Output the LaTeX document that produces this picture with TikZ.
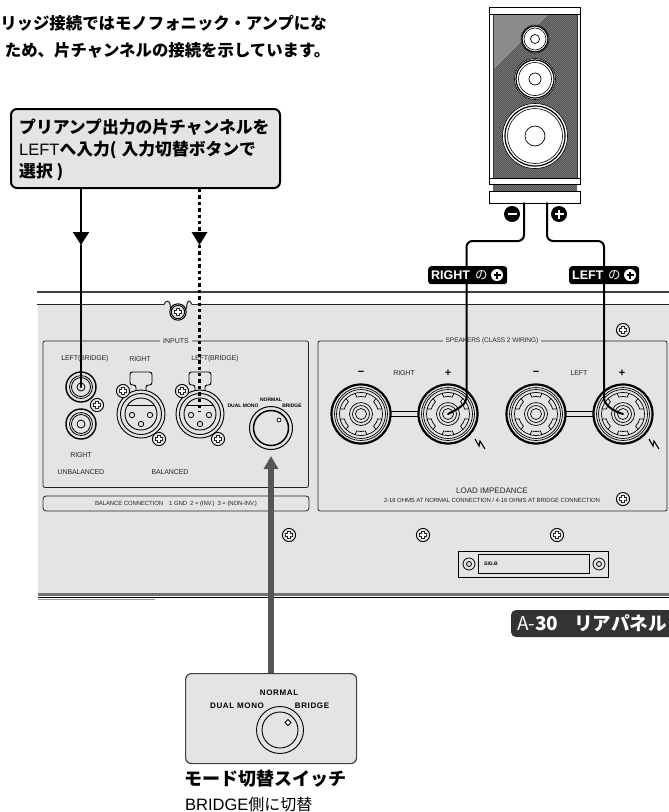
\documentclass[tikz,border=0pt]{standalone}
\usepackage{fontspec}
\setmainfont{Liberation Sans}
\newfontfamily\jp{Noto Sans CJK JP}
\usetikzlibrary{arrows.meta,calc}
\definecolor{panel}{HTML}{E4E4E4}
\definecolor{gband}{HTML}{555555}
\definecolor{dlabel}{HTML}{333333}
\newcommand{\fs}[1]{\fontsize{#1}{#1}\selectfont}
\tikzset{
  pl/.style={text=black!85,inner sep=0pt,font=\fs{7}\addfontfeature{LetterSpace=-2}},
  pb/.style={text=black,inner sep=0pt,font=\fs{5}\bfseries},
  ln/.style={line width=.8pt,draw=black!85},
  paneltitle/.style={fill=panel,inner xsep=3pt,inner ysep=1pt,text=black!85,font=\fs{7}},
  wire/.style={line width=2pt,draw=black,line cap=round},
  dotwire/.style={line width=2.4pt,draw=black,dash pattern=on 3.4pt off 3pt},
  callout/.style={draw=black,line width=2pt,fill=panel,rounded corners=6pt},
  tagbox/.style={fill=black,rounded corners=3pt},
  jptext/.style={inner sep=0pt,anchor=west,font=\jp\bfseries\fs{16.8}},
  pics/scr/.style={code={
    \draw[line width=.9pt,fill=panel] (0,0) circle (6.6pt);
    \draw[line width=4pt,black!85] (-4,0)--(4,0) (0,-4)--(0,4);
    \draw[line width=2.2pt,white] (-3.2,0)--(3.2,0) (0,-3.2)--(0,3.2);
  }},
  pics/rca/.style={code={
    \draw[line width=1.4pt] (0,0) circle (15pt);
    \draw[line width=.8pt] (0,0) circle (11.5pt);
    \draw[line width=.8pt] (0,0) circle (9.5pt);
    \draw[line width=.8pt] (0,0) circle (4pt);
  }},
  pics/xlr/.style={code={
    \draw[line width=.9pt,rounded corners=2.5pt] (-5,-22)--(-5,-29)--(-11,-29)--(-11,-42)--(11,-42)--(11,-29)--(5,-29)--(5,-22);
    \draw[line width=.9pt] (-7,-23)--(7,-23);
    \draw[line width=.9pt,fill=panel] (0,0) circle (24pt);
    \draw[line width=.9pt] (0,0) circle (20.5pt);
    \draw[line width=.9pt] (0,0) circle (16pt);
    \draw[line width=.7pt] (-14,-9)--(14,-9);
    \draw[line width=.8pt] (-9,1) circle (2.7pt) (9,1) circle (2.7pt) (0,10) circle (2.7pt);
  }},
  pics/post/.style={code={
    \draw[line width=2.2pt] (0,0) circle (29.5pt);
    \draw[line width=.7pt] (0,0) circle (26.5pt);
    \draw[line width=.7pt] (0,0) circle (24.5pt);
    \foreach \a in {30,90,150,210,270,330}{
      \draw[line width=.7pt] (\a-16:21.5pt) arc[start angle=\a-16,end angle=\a+16,radius=21.5pt]
        -- (\a+14:17.5pt) arc[start angle=\a+14,end angle=\a-14,radius=17.5pt] -- cycle;
      \draw[line width=.7pt] (\a+16:21.5pt) arc[start angle=\a+16,end angle=\a+44,radius=21.5pt];
    }
    \draw[line width=.7pt] (0,0) circle (11.5pt);
    \draw[line width=.7pt] (0,0) circle (8.5pt);
    \draw[line width=.7pt] (0,0) circle (5.5pt);
    \fill[panel] (0,0) circle (2.5pt);
  }},
  pics/bolt/.style={code={
    \draw[line width=1.1pt] (-5,-5)--(-1,2)--(0,-3)--(5,5);
  }},
  pics/knobmark/.style={code={
    \draw[line width=.8pt,fill=white] (-3,0)--(0,-3)--(3,0)--(0,3)--cycle;
  }}
}
\begin{document}
\begin{tikzpicture}[x=1pt,y=-1pt]
\useasboundingbox (0,0) rectangle (669,812);
\clip (0,0) rectangle (669,812);
% ---------- panel
\fill[panel] (38,304) rectangle (669,594);
\draw[line width=1.2pt,black!75] (37,292)--(669,292);
\draw[line width=1pt,black!85] (37,304.5)--(164,304.5);
\draw[line width=1pt,black!85] (192,304.5)--(669,304.5);
\fill[white] (164,304) -- (170,300) -- (187,300) -- (192,304) -- cycle;
\draw[line width=1pt,black!85,fill=panel] (164,304.5) .. controls (166,300) and (169,300) .. (170,304) .. controls (170,309) and (172,311) .. (174,312) -- (182,312) .. controls (185,311) and (187,309) .. (187,304) .. controls (188,300) and (190,300) .. (192,304.5);
\pic at (178,312) {scr};
\draw[line width=1pt] (178,312) circle (8.2pt);
\draw[line width=3pt,black!55] (38,594)--(669,594);
\draw[line width=1.2pt,black] (38,597.5)--(669,597.5);
\draw[line width=1pt,black!40] (38,599)--(155,599);
% inputs block
\draw[ln,rounded corners=2pt] (43,341) rectangle (308.5,487.5);
\node[paneltitle] (inputs) at (176,341) {INPUTS};
\draw[ln,rounded corners=3pt] (43,496) rectangle (309,511);
\node[pl] (lb1) at (85,359) {LEFT(BRIDGE)};
\node[pl] (rt1) at (140,359) {RIGHT};
\node[pl] (lb2) at (215,359) {LEFT(BRIDGE)};
\pic at (81,387) {rca};
\pic at (81,424) {rca};
\pic at (97,405) {scr};
\node[pl] (rt2) at (81,455) {RIGHT};
\node[pl] (unb) at (81,472) {UNBALANCED};
\node[pl] (bal) at (170,472) {BALANCED};
\pic at (141,414) {xlr};
\pic at (200,414) {xlr};
\pic at (123,391) {scr};
\pic at (159,439) {scr};
\pic at (182,391) {scr};
\pic at (218,439) {scr};
\draw[line width=1pt] (271,428) circle (21.5pt);
\draw[line width=1.5pt] (271,428) circle (17.5pt);
\draw[line width=.7pt,fill=white] (279,420) circle (2pt);
\node[pb] (dm1) at (243,406) {DUAL MONO};
\node[pb] (nm1) at (271,400) {NORMAL};
\node[pb] (br1) at (292,406) {BRIDGE};
\node[pl,font=\fs{6}\addfontfeature{LetterSpace=-2}] (bc) at (176,503.5) {BALANCE CONNECTION\quad 1 GND\enspace 2 = (INV.)\enspace 3 = (NON-INV.)};
% speakers block
\draw[ln,rounded corners=2pt] (318,341) rectangle (667,511);
\node[paneltitle,font=\fs{6.6}\addfontfeature{LetterSpace=-2}] (spk) at (492,341) {SPEAKERS (CLASS 2 WIRING)};
\node[font=\fs{11}\bfseries,inner sep=0pt] (m1) at (361,373) {−};
\node[pl] (rt3) at (404,373) {RIGHT};
\node[font=\fs{11}\bfseries,inner sep=0pt] (p1) at (448,373) {+};
\node[font=\fs{11}\bfseries,inner sep=0pt] (m2) at (536,373) {−};
\node[pl] (lf3) at (579,373) {LEFT};
\node[font=\fs{11}\bfseries,inner sep=0pt] (p2) at (622,373) {+};
\draw[line width=.9pt] (391,411.5)--(419,411.5) (391,416.5)--(419,416.5);
\draw[line width=.9pt] (566,411.5)--(594,411.5) (566,416.5)--(594,416.5);
\pic at (361,414) {post};
\pic at (448,414) {post};
\pic at (536,414) {post};
\pic at (623,414) {post};
\pic at (480,444) {bolt};
\pic at (654,444) {bolt};
\node[pl,font=\fs{8}] (li) at (492,491) {LOAD IMPEDANCE};
\node[pl,font=\fs{6}\addfontfeature{LetterSpace=-2}] (li2) at (492,500) {2-16 OHMS AT NORMAL CONNECTION / 4-16 OHMS AT BRIDGE CONNECTION};
\pic at (623,499) {scr};
\pic at (623,330) {scr};
\pic at (289,535) {scr};
\pic at (423,535) {scr};
\pic at (557,535) {scr};
% connector plate
\draw[line width=1pt] (458,551) rectangle (608,577);
\draw[line width=1pt,fill=panel] (478,554.5) rectangle (589,573);
\draw[line width=.8pt] (469,564) circle (6pt) (469,564) circle (2.5pt);
\draw[line width=.8pt] (599,564) circle (6pt) (599,564) circle (2.5pt);
\node[inner sep=0pt,font=\fs{5}\bfseries] (sig) at (491,564) {SIG.B};
% ---------- speaker
\draw[line width=1pt,fill=white] (489,14) rectangle (580,178);
\begin{scope}
\clip (493,14) rectangle (577,178) (493,184) rectangle (577,191);
\fill[black!45] (493,14) rectangle (577,191);
\foreach \k in {0,2,...,300}{\draw[line width=.7pt,black!70] (493+\k-120,191)--(493+\k+80,-9);}
\end{scope}
\draw[line width=1pt,fill=white] (489,7) rectangle (580,14);
\draw[line width=.9pt,black!80] (493,14)--(493,178) (577,14)--(577,178);
\draw[line width=1pt,fill=white] (489,178) rectangle (580,184);
\draw[line width=1pt,fill=white] (489,191) rectangle (580,203);
\foreach \c/\ra/\rb/\rc/\rd in {39/14/13/11/4.5,79/20.5/19/16.5/6,136/32.5/30/27.5/10}{
  \fill[white] (535,\c) circle (\ra pt);
  \draw[line width=.6pt] (535,\c) circle (\ra pt);
  \draw[line width=1.2pt] (535,\c) circle (\rb pt);
  \draw[line width=.6pt] (535,\c) circle (\rc pt);
  \draw[line width=.7pt] (535,\c) circle (\rd pt);
}
\coordinate (sminus) at (524,203);
\coordinate (splus) at (547,203);
\coordinate (tr) at (448,414);
\coordinate (tl) at (623,414);
% ---------- wires
\coordinate (r1) at (81,387);
\coordinate (x2) at (199.5,412);
\node[callout,minimum width=269pt,minimum height=79pt,anchor=north west] (note) at (10,108) {};
\coordinate (h1) at (81,245);
\coordinate (h2) at (199.5,245);
\draw[wire,-{Triangle[width=16pt,length=13pt]}] (note.south -| h1) -- (h1);
\draw[wire] (h1) -- (r1);
\draw[dotwire] (note.south -| h2) -- (199.5,232);
\fill (191.5,232)--(207.5,232)--(h2)--cycle;
\draw[dotwire] (h2) -- (x2);
\draw[wire,rounded corners=6pt] (sminus) -- (524,241) -- (466.5,241) -- (466.5,392) .. controls (466.5,404) and (458,409) .. (tr);
\draw[wire,rounded corners=6pt] (splus) -- (547,241) -- (604,241) -- (604,392) .. controls (604,404) and (612,411) .. (tl);
% gray arrow
\node[draw=black!75,line width=1.2pt,fill=panel,rounded corners=6pt,minimum width=171pt,minimum height=90pt,anchor=north west] (mode) at (185,673) {};
\coordinate (kn) at (271,456);
\draw[line width=6pt,gband,-{Triangle[width=14pt,length=13pt]}] (mode.north -| kn) -- (kn);
% ---------- callout text
\node[jptext] (t1) at (19,127) {プリアンプ出力の片チャンネルを};
\node[jptext] (t2) at (19,150) {{\normalfont\fs{16.5}LEFT}へ入力(\hspace{5pt}入力切替ボタンで};
\node[jptext] (t3) at (19,172) {選択 )};
\node[jptext,anchor=east,font=\jp\bfseries\fs{16.4}] (top1) at (327,23) {リッジ接続ではモノフォニック・アンプにな};
\node[jptext,anchor=east,font=\jp\bfseries\fs{16.4}] (top2) at (330.5,50) {ため、片チャンネルの接続を示しています。};
% tags
\fill[black] (512,214) circle (8pt);
\draw[white,line width=2.2pt] (507.5,214)--(516.5,214);
\fill[black] (559,214) circle (8pt);
\draw[white,line width=2.2pt] (554.5,214)--(563.5,214) (559,209.5)--(559,218.5);
\node[tagbox,minimum width=79pt,minimum height=18pt,anchor=north west] (tagr) at (428,266) {};
\node[tagbox,minimum width=70pt,minimum height=18pt,anchor=north west] (tagl) at (569,266) {};
\node[inner sep=0pt,anchor=west,text=white,font=\bfseries\fs{12.5}] (tagrt) at (431,275) {RIGHT};
\node[inner sep=0pt,anchor=west,text=white,font=\jp\fs{12.5}] (tagrn) at (475,275) {の};
\fill[white] (497,275) circle (6pt);
\draw[black,line width=1.8pt] (493.5,275)--(500.5,275) (497,271.5)--(497,278.5);
\node[inner sep=0pt,anchor=west,text=white,font=\bfseries\fs{12.5}] (taglt) at (572,275) {LEFT};
\node[inner sep=0pt,anchor=west,text=white,font=\jp\fs{12.5}] (tagln) at (608,275) {の};
\fill[white] (630,275) circle (6pt);
\draw[black,line width=1.8pt] (626.5,275)--(633.5,275) (630,271.5)--(630,278.5);
% A-30 label
\fill[dlabel,rounded corners=5pt] (511,610) rectangle (680,637);
\node[inner sep=0pt,anchor=west,text=white,font=\jp\fs{19}] (a30) at (517,623.5) {A-{\bfseries 30}};
\node[inner sep=0pt,anchor=east,text=white,font=\jp\bfseries\fs{18.6}] (a30b) at (667,623.5) {リアパネル};
% mode box contents
\node[pb,font=\fs{8}\bfseries\addfontfeature{LetterSpace=8}] (nm2) at (279,693) {NORMAL};
\node[pb,font=\fs{8}\bfseries\addfontfeature{LetterSpace=8}] (dm2) at (237,706) {DUAL MONO};
\node[pb,font=\fs{8}\bfseries\addfontfeature{LetterSpace=8}] (br2) at (312,706) {BRIDGE};
\draw[line width=.9pt] (280,730) circle (23.5pt);
\draw[line width=.9pt] (280,730) circle (18pt);
\pic at (288,722.5) {knobmark};
\node[jptext,font=\jp\bfseries\fs{18}] (cap1) at (184,779) {モード切替スイッチ};
\node[jptext,font=\jp\fs{16}] (cap2) at (185,804) {{\normalfont\fs{16.5}BRIDGE}側に切替};
\end{tikzpicture}
\end{document}
